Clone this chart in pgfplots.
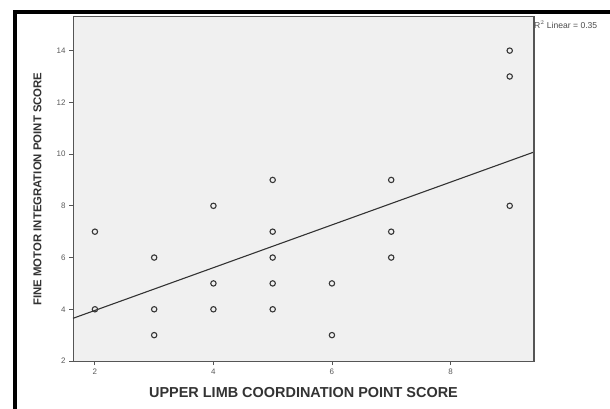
\documentclass[border=0pt]{standalone}
\usepackage{pgfplots}
\pgfplotsset{compat=1.18}
\usepackage{fontspec}
\setmainfont{Liberation Sans}
\definecolor{plotbg}{RGB}{240,240,240}
\definecolor{frame}{RGB}{85,85,85}
\definecolor{ticktext}{RGB}{90,90,90}
\definecolor{markc}{RGB}{55,55,55}
\begin{document}
\begin{tikzpicture}[x=1bp,y=1bp]
\useasboundingbox (0,0) rectangle (610,408);
\fill[white] (0,0) rectangle (610,408);
% outer frame of the figure
\draw[line width=4bp,black] (15,-5) -- (15,396) -- (620,396);
\begin{axis}[
  at={(73bp,47bp)}, anchor=south west,
  scale only axis, width=461bp, height=344bp,
  xmin=1.63, xmax=9.41, ymin=2, ymax=15.3,
  xtick={2,4,6,8}, ytick={2,4,...,14},
  xtick pos=bottom, ytick pos=left,
  tick align=outside, major tick length=4bp,
  tick style={frame, line width=0.9bp},
  axis line style={frame, line width=1bp},
  axis background/.style={fill=plotbg},
  ticklabel style={font=\fontsize{8}{9}\selectfont, text=ticktext},
  /pgf/number format/assume math mode=true,
  xlabel={\fontsize{14.5}{16}\selectfont\bfseries UPPER LIMB COORDINATION POINT SCORE},
  ylabel={\fontsize{11.4}{13}\selectfont\bfseries FINE MOTOR INTEGRATION POINT SCORE},
  xlabel style={at={(rel axis cs:0.5,0)}, anchor=north, yshift=-23bp, text=black!80},
  ylabel style={at={(rel axis cs:0,0.5)}, anchor=south, yshift=28bp, text=black!80},
  clip=false,
]
% observed scores
\addplot[only marks, mark=o, mark size=2.7bp, mark options={draw=markc, line width=1.1bp}]
  coordinates {
  (2,7) (2,4)
  (3,6) (3,4) (3,3)
  (4,8) (4,5) (4,4)
  (5,9) (5,7) (5,6) (5,5) (5,4)
  (6,5) (6,3)
  (7,9) (7,7) (7,6)
  (9,14) (9,13) (9,8)
  };
% linear fit
\addplot[color=black!80, line width=1.1bp] coordinates {(1.63,3.65) (9.41,10.08)};
% heavier right edge of the plot frame
\draw[frame, line width=1.8bp] (rel axis cs:1,0) -- (rel axis cs:1,1);
\node[anchor=west, font=\fontsize{8.6}{9}\selectfont, text=black!70, inner sep=0pt]
  at ([xshift=0bp,yshift=-8bp]rel axis cs:1,1) {R$^2$ Linear = 0.35};
\end{axis}
\end{tikzpicture}
\end{document}
